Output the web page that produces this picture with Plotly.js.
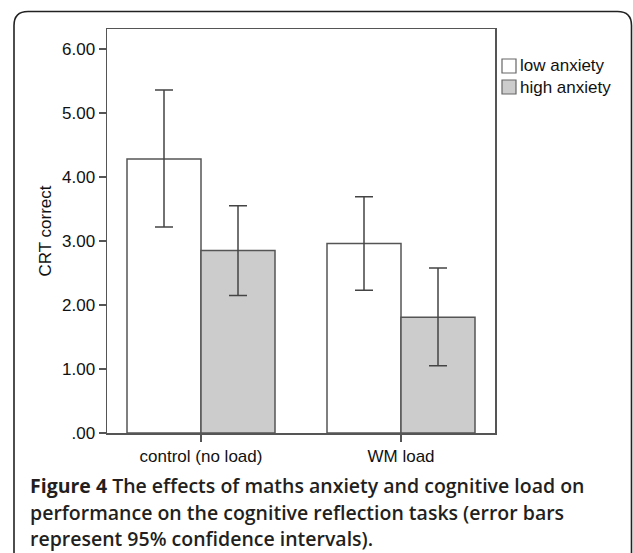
<!DOCTYPE html>
<html>
<head>
<meta charset="utf-8">
<script src="https://cdn.plot.ly/plotly-3.0.1.min.js"></script>
<style>html,body{margin:0;padding:0;background:#fff;}#chart{width:633px;height:553px;}</style>
</head>
<body>
<div id="chart"></div>
<script>
// ---- data ----
const categories = ["control (no load)", "WM load"];
const seriesNames = ["low anxiety", "high anxiety"];
const lowMeans = [4.28, 2.96];
const lowUpper = [5.36, 3.69];
const lowLower = [3.22, 2.23];
const highMeans = [2.85, 1.81];
const highUpper = [3.55, 2.58];
const highLower = [2.15, 1.05];
const yTickVals = [0, 1, 2, 3, 4, 5, 6];
const yTickText = [".00", "1.00", "2.00", "3.00", "4.00", "5.00", "6.00"];
const yTitle = "CRT correct";
const captionLines = [
  "<b>Figure 4</b> The effects of maths anxiety and cognitive load on",
  "performance on the cognitive reflection tasks (error bars",
  "represent 95% confidence intervals)."
];

// ---- styles ----
const fills = ["#ffffff", "#cccccc"];
const edge = "#555555";
const ink = "#111111";
const W = 633, H = 553;
const M = {l: 107, r: 138, t: 29, b: 120};
const pw = W - M.l - M.r, ph = H - M.t - M.b;
const px2x = p => (p - M.l) / pw;
const py2y = p => (H - M.b - p) / ph;

function mkTrace(name, means, up, lo, fill) {
  return {
    type: "bar", name: name, x: categories, y: means,
    marker: {color: fill, line: {color: edge, width: 1.5}},
    error_y: {
      type: "data", symmetric: false,
      array: up.map((u, i) => u - means[i]),
      arrayminus: lo.map((l, i) => means[i] - l),
      color: "#444", thickness: 1.5, width: 9
    },
    hoverinfo: "skip"
  };
}
const traces = [
  mkTrace(seriesNames[0], lowMeans, lowUpper, lowLower, fills[0]),
  mkTrace(seriesNames[1], highMeans, highUpper, highLower, fills[1])
];

// outer rounded border (open at bottom)
const bl = px2x(14), br = px2x(631.5), bt = py2y(11.5), bb = py2y(570);
const rx = 14 / pw, ry = 14 / ph;
const shapes = [{
  type: "path", xref: "paper", yref: "paper",
  path: `M${bl},${bb} L${bl},${bt - ry} Q${bl},${bt} ${bl + rx},${bt} L${br - rx},${bt} Q${br},${bt} ${br},${bt - ry} L${br},${bb}`,
  line: {color: "#222", width: 1.6}
}];
// custom legend swatches
const legY = [66, 87];
seriesNames.forEach((n, i) => {
  shapes.push({
    type: "rect", xref: "paper", yref: "paper",
    x0: px2x(502), x1: px2x(516), y0: py2y(legY[i] - 7), y1: py2y(legY[i] + 7),
    fillcolor: fills[i], line: {color: "#666", width: 1.2}
  });
});

const annotations = [];
seriesNames.forEach((n, i) => {
  annotations.push({
    xref: "paper", yref: "paper", x: px2x(517.5), y: py2y(legY[i]),
    xanchor: "left", yanchor: "middle", showarrow: false, text: n,
    font: {family: "Liberation Sans, Arial, sans-serif", size: 17, color: ink}
  });
});
const capY = [485, 512, 538];
captionLines.forEach((t, i) => {
  annotations.push({
    xref: "paper", yref: "paper", x: px2x(28), y: py2y(capY[i]),
    xanchor: "left", yanchor: "middle", showarrow: false, text: t,
    font: {family: "Open Sans, sans-serif", size: 19.5, color: "#231f20", weight: 600}
  });
});

const layout = {
  width: W, height: H,
  margin: M,
  paper_bgcolor: "#fff", plot_bgcolor: "#fff",
  showlegend: false,
  barmode: "group", bargap: 0.26, bargroupgap: 0,
  font: {family: "Liberation Sans, Arial, sans-serif", size: 17, color: ink},
  xaxis: {
    type: "category", range: [-0.47, 1.47],
    showline: true, mirror: true, linecolor: edge, linewidth: 1.5,
    ticks: "outside", ticklen: 7, tickcolor: edge, tickwidth: 1.5,
    showgrid: false, zeroline: false, fixedrange: true
  },
  yaxis: {
    range: [0, 6.313], tickvals: yTickVals, ticktext: yTickText,
    showline: true, mirror: true, linecolor: edge, linewidth: 1.5,
    ticks: "outside", ticklen: 7, tickcolor: edge, tickwidth: 1.5,
    showgrid: false, zeroline: false, fixedrange: true,
    title: {text: yTitle, standoff: 6, font: {size: 17, color: ink}}
  },
  shapes: shapes,
  annotations: annotations
};

Plotly.newPlot("chart", traces, layout, {displayModeBar: false, staticPlot: true});
</script>
</body>
</html>
